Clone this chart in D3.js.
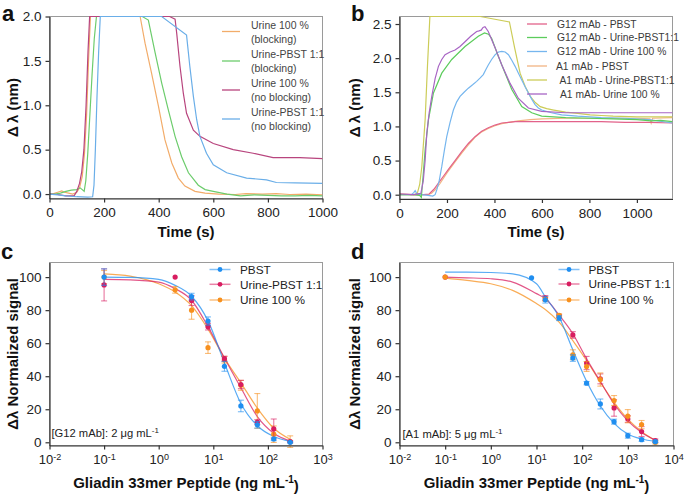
<!DOCTYPE html>
<html>
<head>
<meta charset="utf-8">
<script src="https://cdn.jsdelivr.net/npm/d3@7"></script>
<style>
  html, body { margin: 0; padding: 0; background: #fff; }
  svg { display: block; font-family: "Liberation Sans", Arial, Helvetica, sans-serif; }
</style>
</head>
<body>
<svg id="chart" width="685" height="494"></svg>
<script>
// ---------------- DATA ----------------
// Panel a: time (s) vs Δλ (nm)
const aUrine100Block = [[0,0],[15,0.005],[30,0.02],[45,0.035],[55,0.02],[70,0.01],[85,0.0],[100,0.02],[110,0.07],[120,0.2],[128,0.45],[136,0.9],[143,1.5],[150,2.0],[332,2.0],[350,1.70],[374,1.36],[399,0.99],[423,0.61],[448,0.35],[472,0.18],[496,0.09],[533,0.03],[570,0.01],[620,0.0],[680,-0.005],[720,0.005],[780,0.0],[830,0.005],[880,-0.005],[940,0.0],[1000,-0.01]];
const aUrinePbstBlock = [[0,0],[20,0],[40,0.01],[60,0.03],[80,0.045],[100,0.05],[112,0.07],[120,0.05],[127,0.03],[133,0.15],[140,0.45],[148,0.9],[156,1.35],[164,1.75],[172,2.0],[340,2.0],[362,1.96],[387,1.59],[411,1.25],[435,0.95],[460,0.65],[484,0.42],[509,0.24],[545,0.1],[570,0.05],[600,0.03],[650,0.0],[700,-0.02],[750,-0.01],[800,-0.015],[850,-0.02],[900,-0.02],[950,-0.015],[1000,-0.02]];
const aUrine100NoBlock = [[0,0],[30,-0.005],[60,-0.02],[90,-0.02],[100,0.03],[110,0.12],[118,0.25],[126,0.5],[134,1.0],[141,1.6],[147,2.0],[440,2.0],[460,1.97],[466,1.81],[478,1.44],[490,1.14],[502,0.91],[527,0.72],[551,0.65],[600,0.57],[673,0.50],[746,0.46],[819,0.41],[917,0.41],[1000,0.40]];
const aUrinePbstNoBlock = [[0,0],[30,-0.01],[60,-0.02],[100,-0.03],[140,-0.035],[158,-0.03],[163,0.1],[168,0.5],[174,1.1],[180,1.6],[186,2.0],[411,2.0],[502,1.79],[514,1.44],[527,1.10],[539,0.84],[551,0.65],[575,0.46],[600,0.33],[649,0.24],[722,0.18],[795,0.16],[831,0.13],[900,0.125],[1000,0.12]];
const aLabels = [["Urine 100 %","(blocking)"],["Urine-PBST 1:1","(blocking)"],["Urine 100 %","(no blocking)"],["Urine-PBST 1:1","(no blocking)"]];
const aColors = ["#f2ac6a","#6ccc6c","#b8457e","#6aaee8"];

// Panel b
const bG12Pbst = [[0,0.01],[50,0.0],[100,0.0],[125,0.01],[145,0.08],[164,0.17],[185,0.27],[206,0.37],[234,0.50],[262,0.63],[290,0.75],[318,0.85],[346,0.93],[374,0.98],[402,1.02],[431,1.05],[460,1.06],[487,1.07],[550,1.07],[650,1.07],[750,1.07],[850,1.07],[950,1.06],[1050,1.06],[1150,1.05]];
const bG12UrinePbst = [[0,0.0],[60,0.0],[85,-0.01],[92,-0.04],[100,0.3],[108,0.66],[122,1.1],[143,1.49],[178,1.78],[220,1.98],[276,2.17],[332,2.32],[358,2.37],[375,2.35],[388,2.29],[417,2.02],[445,1.78],[473,1.54],[515,1.29],[557,1.20],[599,1.15],[700,1.13],[800,1.12],[900,1.11],[1000,1.10],[1060,1.08],[1100,1.09],[1150,1.07]];
const bG12Urine100 = [[0,0.0],[50,0.0],[60,0.03],[66,0.06],[72,0.02],[90,0.0],[120,-0.01],[140,-0.02],[150,0.0],[157,0.07],[167,0.2],[178,0.41],[189,0.65],[199,0.85],[213,1.06],[227,1.24],[241,1.36],[255,1.44],[272,1.5],[290,1.56],[308,1.61],[325,1.66],[340,1.71],[353,1.76],[365,1.84],[374,1.90],[388,1.98],[403,2.05],[417,2.09],[431,2.10],[445,2.09],[459,2.05],[473,1.97],[487,1.88],[501,1.78],[515,1.68],[529,1.58],[543,1.49],[557,1.40],[571,1.32],[585,1.27],[599,1.24],[640,1.2],[683,1.17],[750,1.15],[850,1.13],[950,1.12],[1050,1.1],[1150,1.05]];
const bA1Pbst = [[0,0.01],[60,0.0],[120,0.0],[135,0.02],[150,0.07],[170,0.16],[200,0.32],[234,0.48],[262,0.61],[290,0.73],[318,0.84],[346,0.92],[374,0.97],[402,1.01],[431,1.04],[460,1.06],[500,1.08],[550,1.1],[600,1.11],[700,1.12],[800,1.12],[900,1.12],[1000,1.12],[1055,1.11],[1060,1.05],[1066,1.12],[1150,1.13]];
const bA1UrinePbst = [[0,0.0],[60,0.0],[75,0.02],[85,0.15],[94,0.41],[108,1.1],[118,1.9],[128,2.61],[340,2.61],[463,2.53],[485,2.15],[508,1.78],[530,1.58],[551,1.44],[572,1.35],[593,1.29],[620,1.26],[650,1.24],[700,1.21],[750,1.19],[803,1.17],[850,1.16],[900,1.15],[1000,1.14],[1150,1.14]];
const bA1Urine100 = [[0,0.01],[60,0.0],[90,0.02],[100,0.2],[108,0.5],[115,0.9],[125,1.2],[136,1.44],[150,1.7],[164,1.88],[178,1.98],[192,2.05],[213,2.09],[234,2.12],[255,2.17],[276,2.24],[300,2.32],[325,2.39],[335,2.40],[344,2.41],[352,2.45],[360,2.46],[374,2.39],[403,2.15],[431,1.90],[466,1.63],[501,1.41],[543,1.27],[599,1.22],[700,1.2],[800,1.2],[900,1.2],[1000,1.2],[1150,1.2]];
const bLabels = ["G12 mAb - PBST","G12 mAb - Urine-PBST1:1","G12 mAb - Urine 100 %","A1 mAb - PBST","A1 mAb - Urine-PBST1:1","A1 mAb- Urine 100 %"];
const bColors = ["#e2628a","#5ccc5c","#76b6ee","#f2b482","#cccc58","#a865c4"];

// Panel c: concentration (ng/mL) vs normalized signal
const cX_pbst = [0.1,4,8,16,32,64,128,256];
const cY_pbst = [100,88.2,73.4,46,22,10.6,2,0];
const cE_pbst = [5,2,2.5,3,3.5,2,1,0.5];
const cX_upbst = [0.1,2,4,8,16,32,64,128,256];
const cY_upbst = [95.3,100,85.8,70,50.6,35,12.2,8.1,0.4];
const cE_upbst = [9.7,0,3,2,1.5,2.5,1.5,6,0.5];
const cX_u100 = [0.1,2,4,8,16,32,64,128,256];
const cY_u100 = [100,92.3,80,57.3,50,34.5,19,4.9,0.4];
const cE_u100 = [4,2,5.5,3.5,2,3,10.5,5,3.5];
const cFitX = [0.1,0.3,1,2,4,8,16,32,64,128,256];
const cFit_pbst = [100,99.8,98.6,95,88.4,73.5,48,23.5,10,3.5,0.6];
const cFit_upbst = [98.6,98.3,97,93,86,70,51,33,15.6,5.5,0.8];
const cFit_u100 = [102,100.6,96,91,82.7,68.5,51,36,20.7,8.5,1.8];

// Panel d
const dX_pbst = [7.8,15.6,31.25,62.5,125,250,500,1000,2000,4000];
const dY_pbst = [99.6,86.3,75.2,51,35.8,23.2,12.5,4,1.6,0.4];
const dE_pbst = [0,2,1.5,2,1,3,1.5,1.5,1,0.5];
const dX_upbst = [0.1,15.6,31.25,62.5,125,250,500,1000,2000,4000];
const dY_upbst = [100,87.3,76.4,65,48,38.4,20.8,14.1,6.5,1];
const dE_upbst = [0,1.5,1,2,4,3,5,2,3,1];
const dX_u100 = [0.1,15.6,31.25,62.5,125,250,500,1000,2000,4000];
const dY_u100 = [100,86.5,76.8,53,45.9,38,25.3,15.8,10.7,0];
const dE_u100 = [0,1,1,3,3,4,3,4,2.5,1];
const dFitX = [0.1,0.3,1,3,10,15.6,31.25,62.5,125,250,500,1000,2000,4000];
const dFit_pbst = [103,103,102.8,102,96,88,75.8,56,37,22,11.5,5,2,0.6];
const dFit_upbst = [100,99.6,99,97,90,87,77,65.7,50.5,36.8,23.2,13,6,1.4];
const dFit_u100 = [99.4,98,96,92,84,80.4,72.7,61.6,49.5,36.4,24.2,14,6.5,1];

const cdLabels = ["PBST","Urine-PBST 1:1","Urine 100 %"];
const cdColors = ["#1f8ef0","#d81d60","#f7901e"];

// ---------------- DRAW ----------------
const svg = d3.select("#chart");
const FONT = '"Liberation Sans", Arial, Helvetica, sans-serif';
let clipId = 0;

function frame(x0,x1,y0,y1){
  svg.append("rect").attr("x",x0).attr("y",y0).attr("width",x1-x0).attr("height",y1-y0)
    .attr("fill","none").attr("stroke","#9a9a9a").attr("stroke-width",1);
}
function clip(x0,x1,y0,y1){
  const id = "clip"+(clipId++);
  svg.append("clipPath").attr("id",id).append("rect")
    .attr("x",x0).attr("y",y0).attr("width",x1-x0).attr("height",y1-y0);
  return svg.append("g").attr("clip-path","url(#"+id+")");
}
function styleAxis(g){
  g.select(".domain").attr("stroke","#333").attr("stroke-width",1.2);
  g.selectAll(".tick line").attr("stroke","#333").attr("stroke-width",1.2);
  g.selectAll(".tick text").attr("font-size",13.5).attr("fill","#222").attr("font-family",FONT);
}
function linAxes(x,y,xt,yt,yfmt,bottomY,leftX){
  const gx = svg.append("g").attr("transform","translate(0,"+bottomY+")")
    .call(d3.axisBottom(x).tickValues(xt).tickSize(4).tickSizeOuter(0).tickPadding(5).tickFormat(d3.format("d")));
  styleAxis(gx);
  const gy = svg.append("g").attr("transform","translate("+leftX+",0)")
    .call(d3.axisLeft(y).tickValues(yt).tickSize(4).tickSizeOuter(0).tickPadding(4).tickFormat(yfmt));
  styleAxis(gy);
}
function logAxisBottom(x,ticks,bottomY){
  const gx = svg.append("g").attr("transform","translate(0,"+bottomY+")")
    .call(d3.axisBottom(x).tickValues(ticks).tickSize(4).tickSizeOuter(0).tickPadding(5).tickFormat(""));
  styleAxis(gx);
  gx.selectAll(".tick text").each(function(d){
    const t = d3.select(this);
    const e = Math.round(Math.log10(d));
    t.text(null).attr("font-size",13);
    t.append("tspan").text("10");
    t.append("tspan").attr("dy","-0.45em").attr("font-size",9).text(String(e));
  });
}
function panelLetter(txt,x,y){
  svg.append("text").attr("x",x).attr("y",y).attr("font-size",22).attr("font-weight","bold")
    .attr("fill","#111").text(txt);
}
function xTitle(txt,cx,y,sup,after){
  const t = svg.append("text").attr("x",cx).attr("y",y).attr("text-anchor","middle")
    .attr("font-size",15).attr("font-weight","bold").attr("fill","#111");
  t.append("tspan").text(txt);
  if(sup){
    t.append("tspan").attr("dy","-0.5em").attr("font-size",10).text(sup);
    t.append("tspan").attr("dy","0.5em").text(after);
  }
}
function yTitle(txt,x,cy){
  svg.append("text").attr("transform","translate("+x+","+cy+") rotate(-90)")
    .attr("text-anchor","middle").attr("font-size",15).attr("font-weight","bold").attr("fill","#111").text(txt);
}

// ---------- Panel a ----------
const A = {x0:49.5,x1:322.5,y0:16.5,y1:198.5};
const aX = d3.scaleLinear().domain([0,1000]).range([A.x0,A.x1]);
const aY = d3.scaleLinear().domain([-0.05,2]).range([A.y1,A.y0]);
frame(A.x0,A.x1,A.y0,A.y1);
{
  const g = clip(A.x0,A.x1,A.y0-1,A.y1);
  const line = d3.line().x(d=>aX(d[0])).y(d=>aY(d[1]));
  [aUrine100Block,aUrinePbstBlock,aUrine100NoBlock,aUrinePbstNoBlock].forEach((s,i)=>{
    g.append("path").datum(s).attr("d",line).attr("fill","none").attr("stroke",aColors[i]).attr("stroke-width",1.2);
  });
}
linAxes(aX,aY,[0,200,400,600,800,1000],[0,0.5,1,1.5,2],d3.format(".1f"),A.y1,A.x0);
{
  const rows = [31.5,61,90,119];
  aLabels.forEach((lab,i)=>{
    svg.append("line").attr("x1",222).attr("x2",240).attr("y1",rows[i]).attr("y2",rows[i])
      .attr("stroke",aColors[i]).attr("stroke-width",1.3);
    const t = svg.append("text").attr("font-size",10.5).attr("fill","#444");
    t.append("tspan").attr("x",251).attr("y",rows[i]-3).text(lab[0]);
    t.append("tspan").attr("x",251).attr("y",rows[i]+11).text(lab[1]);
  });
}
panelLetter("a",2,20.5);
xTitle("Time (s)",(A.x0+A.x1)/2,237);
yTitle("Δ\u2009λ (nm)",18,(A.y0+A.y1)/2);

// ---------- Panel b ----------
const B = {x0:399.5,x1:672.5,y0:16.5,y1:199};
const bX = d3.scaleLinear().domain([0,1150]).range([B.x0,B.x1]);
const bY = d3.scaleLinear().domain([-0.063,2.61]).range([B.y1,B.y0]);
frame(B.x0,B.x1,B.y0,B.y1);
{
  const g = clip(B.x0,B.x1,B.y0-1,B.y1);
  const line = d3.line().x(d=>bX(d[0])).y(d=>bY(d[1]));
  const series = [bG12Pbst,bG12UrinePbst,bG12Urine100,bA1Pbst,bA1UrinePbst,bA1Urine100];
  [3,0,4,2,1,5].forEach(i=>{
    g.append("path").datum(series[i]).attr("d",line).attr("fill","none").attr("stroke",bColors[i]).attr("stroke-width",1.2);
  });
}
linAxes(bX,bY,[0,200,400,600,800,1000],[0,0.5,1,1.5,2,2.5],d3.format(".1f"),B.y1,B.x0);
{
  const rows = [24,37.5,51.5,66,80,94];
  const tx = [557,557,557,556,559.5,560];
  bLabels.forEach((lab,i)=>{
    svg.append("line").attr("x1",527).attr("x2",547).attr("y1",rows[i]).attr("y2",rows[i])
      .attr("stroke",bColors[i]).attr("stroke-width",1.3);
    svg.append("text").attr("x",tx[i]).attr("y",rows[i]+3.6).attr("font-size",10.3).attr("fill","#3a3a3a").text(lab);
  });
}
panelLetter("b",351,20.5);
xTitle("Time (s)",(B.x0+B.x1)/2,237);
yTitle("Δ\u2009λ (nm)",360,(B.y0+B.y1)/2);

// ---------- Dose-response helper ----------
function doseSeries(g,x,y,xs,ys,es,color){
  const gg = g.append("g");
  xs.forEach((xv,i)=>{
    if(es[i]>0){
      const cx = x(xv), top = y(ys[i]+es[i]), bot = y(ys[i]-es[i]);
      gg.append("line").attr("x1",cx).attr("x2",cx).attr("y1",top).attr("y2",bot).attr("stroke",color).attr("stroke-opacity",0.6).attr("stroke-width",1.1);
      gg.append("line").attr("x1",cx-3).attr("x2",cx+3).attr("y1",top).attr("y2",top).attr("stroke",color).attr("stroke-opacity",0.6).attr("stroke-width",1.1);
      gg.append("line").attr("x1",cx-3).attr("x2",cx+3).attr("y1",bot).attr("y2",bot).attr("stroke",color).attr("stroke-opacity",0.6).attr("stroke-width",1.1);
    }
  });
  xs.forEach((xv,i)=>{
    gg.append("circle").attr("cx",x(xv)).attr("cy",y(ys[i])).attr("r",2.6).attr("fill",color);
  });
}
function fitLine(g,x,y,xs,ys,color){
  const line = d3.line().x(d=>x(d[0])).y(d=>y(d[1])).curve(d3.curveMonotoneX);
  g.append("path").datum(xs.map((v,i)=>[v,ys[i]])).attr("d",line).attr("fill","none")
    .attr("stroke",color).attr("stroke-opacity",0.75).attr("stroke-width",1.2);
}
function cdLegend(lx,tx,rows){
  cdLabels.forEach((lab,i)=>{
    svg.append("line").attr("x1",lx).attr("x2",lx+21).attr("y1",rows[i]).attr("y2",rows[i])
      .attr("stroke",cdColors[i]).attr("stroke-opacity",0.55).attr("stroke-width",1.5);
    svg.append("circle").attr("cx",lx+10.5).attr("cy",rows[i]).attr("r",2.4).attr("fill",cdColors[i]);
    svg.append("text").attr("x",tx).attr("y",rows[i]+4.2).attr("font-size",11.8).attr("fill","#222").text(lab);
  });
}
function annot(x,y,pre){
  const t = svg.append("text").attr("x",x).attr("y",y).attr("font-size",11.2).attr("fill","#222");
  t.append("tspan").text(pre);
  t.append("tspan").attr("dy","-0.45em").attr("font-size",8).text("-1");
}

// ---------- Panel c ----------
const C = {x0:49.5,x1:322.5,y0:262.5,y1:445.5};
const cX = d3.scaleLog().domain([0.01,1000]).range([C.x0,C.x1]);
const cY = d3.scaleLinear().domain([-1.94,108.85]).range([C.y1,C.y0]);
frame(C.x0,C.x1,C.y0,C.y1);
{
  const g = svg.append("g");
  fitLine(g,cX,cY,cFitX,cFit_u100,cdColors[2]);
  fitLine(g,cX,cY,cFitX,cFit_upbst,cdColors[1]);
  fitLine(g,cX,cY,cFitX,cFit_pbst,cdColors[0]);
  doseSeries(g,cX,cY,cX_u100,cY_u100,cE_u100,cdColors[2]);
  doseSeries(g,cX,cY,cX_upbst,cY_upbst,cE_upbst,cdColors[1]);
  doseSeries(g,cX,cY,cX_pbst,cY_pbst,cE_pbst,cdColors[0]);
}
logAxisBottom(cX,[0.01,0.1,1,10,100,1000],C.y1);
{
  const gy = svg.append("g").attr("transform","translate("+C.x0+",0)")
    .call(d3.axisLeft(cY).tickValues([0,20,40,60,80,100]).tickSize(4).tickSizeOuter(0).tickPadding(4));
  styleAxis(gy);
}
cdLegend(209.5,240,[269.5,284.3,300]);
annot(51.5,437,"[G12 mAb]: 2 μg mL");
panelLetter("c",1,259);
xTitle("Gliadin 33mer Peptide (ng mL",(C.x0+C.x1)/2,488,"-1",")");
yTitle("Δλ Normalized signal",18,(C.y0+C.y1)/2);

// ---------- Panel d ----------
const D = {x0:399.5,x1:673.5,y0:262.5,y1:445.5};
const dX = d3.scaleLog().domain([0.01,10000]).range([D.x0,D.x1]);
const dY = d3.scaleLinear().domain([-1.94,108.85]).range([D.y1,D.y0]);
frame(D.x0,D.x1,D.y0,D.y1);
{
  const g = svg.append("g");
  fitLine(g,dX,dY,dFitX,dFit_u100,cdColors[2]);
  fitLine(g,dX,dY,dFitX,dFit_upbst,cdColors[1]);
  fitLine(g,dX,dY,dFitX,dFit_pbst,cdColors[0]);
  doseSeries(g,dX,dY,dX_upbst,dY_upbst,dE_upbst,cdColors[1]);
  doseSeries(g,dX,dY,dX_u100,dY_u100,dE_u100,cdColors[2]);
  doseSeries(g,dX,dY,dX_pbst,dY_pbst,dE_pbst,cdColors[0]);
}
logAxisBottom(dX,[0.01,0.1,1,10,100,1000,10000],D.y1);
{
  const gy = svg.append("g").attr("transform","translate("+D.x0+",0)")
    .call(d3.axisLeft(dY).tickValues([0,20,40,60,80,100]).tickSize(4).tickSizeOuter(0).tickPadding(4));
  styleAxis(gy);
}
cdLegend(558.5,588.5,[269.5,284,300]);
annot(402.5,438,"[A1 mAb]: 5 μg mL");
panelLetter("d",351,259);
xTitle("Gliadin 33mer Peptide (ng mL",(D.x0+D.x1)/2,488,"-1",")");
yTitle("Δλ Normalized signal",360,(D.y0+D.y1)/2);
</script>
</body>
</html>
